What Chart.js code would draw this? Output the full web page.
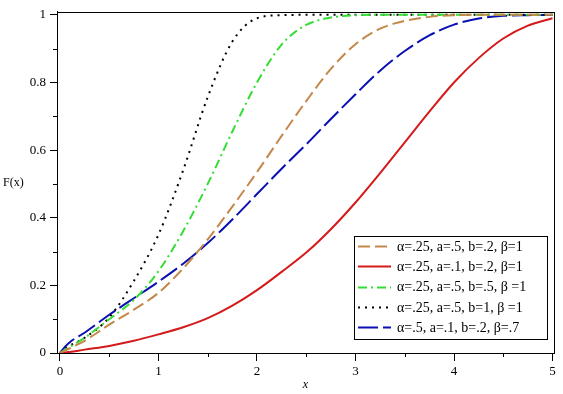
<!DOCTYPE html>
<html>
<head>
<meta charset="utf-8">
<script src="https://cdn.jsdelivr.net/npm/chart.js@4.4.0/dist/chart.umd.min.js"></script>
<style>
    html, body { margin: 0; padding: 0; background: #fff; }
    #wrap { width: 563px; height: 394px; }
</style>
</head>
<body>
<div id="wrap"><canvas id="chart" width="563" height="394"></canvas></div>
<script>
// x grid shared by all curves
const xs = [0, 0.05, 0.1, 0.25, 0.5, 0.75, 1, 1.25, 1.5, 1.75, 2, 2.25, 2.5, 2.75, 3, 3.25, 3.5, 3.75, 4, 4.25, 4.5, 4.75, 5];

// F(x)
const brownF = [0, 0.007, 0.014, 0.036, 0.084, 0.128, 0.178, 0.25, 0.336, 0.433, 0.535, 0.642, 0.745, 0.84, 0.913, 0.959, 0.982, 0.994, 0.999, 1, 1, 1, 1];
const redF   = [0, 0.001, 0.003, 0.01, 0.021, 0.036, 0.055, 0.076, 0.103, 0.14, 0.186, 0.24, 0.297, 0.366, 0.445, 0.532, 0.623, 0.714, 0.8, 0.872, 0.93, 0.968, 0.99];
const greenF = [0, 0.009, 0.018, 0.045, 0.1, 0.157, 0.242, 0.36, 0.5, 0.655, 0.8, 0.912, 0.97, 0.992, 0.999, 1, 1, 1, 1, 1, 1, 1, 1];
const blackF = [0, 0.012, 0.022, 0.045, 0.105, 0.213, 0.35, 0.54, 0.757, 0.921, 0.99, 0.999, 1, 1, 1, 1, 1, 1, 1, 1, 1, 1, 1];
const blueF  = [0, 0.018, 0.032, 0.06, 0.113, 0.162, 0.211, 0.264, 0.325, 0.395, 0.47, 0.545, 0.617, 0.692, 0.765, 0.835, 0.893, 0.939, 0.971, 0.989, 0.997, 0.999, 1];

const labels = [
    'α=.25, a=.5, b=.2, β=1',
    'α=.25, a=.1, b=.2, β=1',
    'α=.25, a=.5, b=.5, β =1',
    'α=.25, a=.5, b=1, β =1',
    'α=.5, a=.1, b=.2, β=.7'
];

const xTicks = [0, 1, 2, 3, 4, 5];
const yTicks = [0, 0.2, 0.4, 0.6, 0.8, 1];
const xMinor = [0.5, 1.5, 2.5, 3.5, 4.5];
const yMinor = [0.1, 0.3, 0.5, 0.7, 0.9];

const serif = '"Liberation Serif", "DejaVu Serif", serif';

function points(ys) {
    return xs.map((x, i) => ({ x: x, y: ys[i] }));
}

function series(label, ys, color, dash) {
    return {
        label: label,
        data: points(ys),
        borderColor: color,
        borderWidth: 2,
        borderDash: dash,
        borderCapStyle: 'butt',
        pointRadius: 0,
        fill: false,
        cubicInterpolationMode: 'monotone'
    };
}

// frame, minor ticks, axis captions and the boxed legend
const decorations = {
    id: 'decorations',
    afterDraw(chart) {
        const ctx = chart.ctx;
        const area = chart.chartArea;
        const sx = chart.scales.x;
        const sy = chart.scales.y;

        ctx.save();
        ctx.strokeStyle = '#000';
        ctx.lineWidth = 1;
        ctx.setLineDash([]);
        ctx.strokeRect(Math.round(area.left) + 0.5, Math.round(area.top) + 0.5,
            Math.round(area.right - area.left), Math.round(area.bottom - area.top));

        ctx.beginPath();
        xMinor.forEach(v => {
            const px = Math.round(sx.getPixelForValue(v)) + 0.5;
            ctx.moveTo(px, area.bottom);
            ctx.lineTo(px, area.bottom + 4);
        });
        yMinor.forEach(v => {
            const py = Math.round(sy.getPixelForValue(v)) + 0.5;
            ctx.moveTo(area.left - 4, py);
            ctx.lineTo(area.left, py);
        });
        ctx.stroke();

        ctx.fillStyle = '#000';
        ctx.font = '12px ' + serif;
        ctx.textAlign = 'left';
        ctx.textBaseline = 'middle';
        ctx.fillText('F(x)', 3, 183);
        ctx.font = 'italic 12px ' + serif;
        ctx.textAlign = 'center';
        ctx.fillText('x', (area.left + area.right) / 2, 385);

        // legend
        const box = { left: 354, top: 236, width: 193, height: 103 };
        ctx.fillStyle = '#fff';
        ctx.fillRect(box.left, box.top, box.width, box.height);
        ctx.strokeRect(box.left + 0.5, box.top + 0.5, box.width, box.height);
        ctx.font = '14px ' + serif;
        ctx.textAlign = 'left';
        chart.data.datasets.forEach((ds, i) => {
            const y = box.top + 10 + i * 20.3;
            ctx.strokeStyle = ds.borderColor;
            ctx.lineWidth = 2;
            ctx.setLineDash(ds.borderDash || []);
            ctx.beginPath();
            ctx.moveTo(box.left + 4, Math.round(y) + 0.5);
            ctx.lineTo(box.left + 37, Math.round(y) + 0.5);
            ctx.stroke();
            ctx.setLineDash([]);
            ctx.fillStyle = '#000';
            ctx.fillText(ds.label, box.left + 43, y + 1);
        });
        ctx.restore();
    }
};

const chart = new Chart(document.getElementById('chart'), {
    type: 'line',
    data: {
        datasets: [
            series(labels[0], brownF, '#C4884A', [12, 5]),
            series(labels[1], redF, '#D41A1A', []),
            series(labels[2], greenF, '#33DD33', [9, 4, 2, 4]),
            series(labels[3], blackF, '#000000', [2, 5]),
            series(labels[4], blueF, '#0A10B4', [20, 5])
        ]
    },
    options: {
        responsive: false,
        animation: false,
        devicePixelRatio: 1,
        layout: { padding: { left: 0, right: 9, top: 8, bottom: 0 } },
        plugins: {
            legend: { display: false },
            tooltip: { enabled: false }
        },
        scales: {
            x: {
                type: 'linear',
                min: -0.03,
                max: 5.015,
                afterBuildTicks: s => { s.ticks = xTicks.map(v => ({ value: v })); },
                afterFit: s => { s.height = 41; },
                grid: { drawOnChartArea: false, drawTicks: true, tickLength: 8, color: '#000' },
                border: { display: true, color: '#000', width: 1 },
                ticks: {
                    color: '#000',
                    padding: 3,
                    maxRotation: 0,
                    font: { family: serif, size: 13 },
                    callback: v => String(v)
                }
            },
            y: {
                type: 'linear',
                min: 0,
                max: 1.009,
                afterBuildTicks: s => { s.ticks = yTicks.map(v => ({ value: v })); },
                afterFit: s => { s.width = 57; },
                grid: { drawOnChartArea: false, drawTicks: true, tickLength: 7, color: '#000' },
                border: { display: true, color: '#000', width: 1 },
                ticks: {
                    color: '#000',
                    padding: 4,
                    font: { family: serif, size: 13 },
                    callback: v => (v === 0 || v === 1) ? String(v) : v.toFixed(1)
                }
            }
        }
    },
    plugins: [decorations]
});
</script>
</body>
</html>
